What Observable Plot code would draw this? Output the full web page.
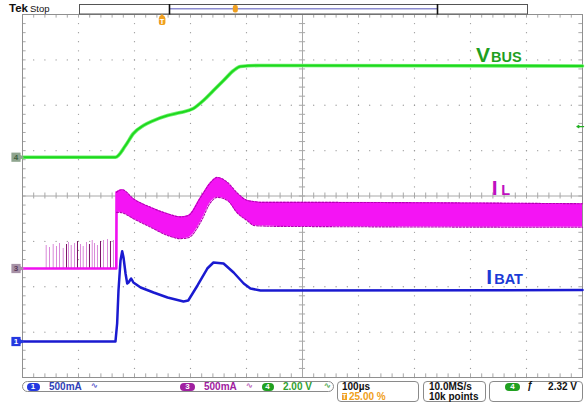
<!DOCTYPE html>
<html><head><meta charset="utf-8">
<script src="https://cdn.jsdelivr.net/npm/d3@7"></script>
<script src="https://cdn.jsdelivr.net/npm/@observablehq/plot@0.6"></script>
<style>
body{margin:0;background:#fff;}
#wrap{position:relative;width:585px;height:406px;overflow:hidden;font-family:"Liberation Sans",Arial,sans-serif;background:#fff;}
#wrap > svg{position:absolute;left:0;top:0;}
.ov{position:absolute;white-space:nowrap;line-height:1;font-weight:bold;font-size:10px;}
.box{position:absolute;border:1px solid #8a8a8a;box-sizing:border-box;}
.pill{position:absolute;border-radius:5px;color:#fff;font-weight:bold;font-size:8px;text-align:center;line-height:8px;height:8px;}
</style></head><body><div id="wrap"></div>
<script>
// ---------- data (time in µs relative to trigger, amplitude in screen divisions) ----------
const greenT = [-250,-84,-66,-52,-34,-16,9,32,55,73,91,109,127,139,175,750];
const vbus   = [0.855,0.855,1.113,1.377,1.553,1.663,1.774,1.840,1.928,2.105,2.325,2.545,2.765,2.854,2.876,2.865];

const ilPreT = [-250,-82.5,-82];
const ilPre  = [-1.598,-1.598,0.08];
const spikeT = [-207.7,-201.8,-195.2,-189.3,-183.9,-177.3,-171.4,-167.9,-163.0,-157.1,-151.8,-146.4,-141.6,-135.7,-130.4,-125.5,-121.4,-116.1,-110.7,-105.4,-98.2,-92.9,-87.5];
const spikeTop = [-1.091,-1.135,-1.069,-1.113,-1.047,-1.157,-1.069,-1.025,-1.091,-1.047,-1.003,-1.069,-1.113,-1.025,-1.069,-0.981,-1.047,-1.091,-1.003,-0.981,-0.959,-1.003,-0.981];
const spikeDark = [0,0,0,0,0,0,1,0,0,0,1,0,0,0,1,0,0,0,1,0,0,1,0];
const bandT  = [-82,-78,-72,-52,-21,9,32,46,68,86,98,116,134,152,163,175,211,750];
const bandHi = [0.08,0.12,0.14,-0.06,-0.25,-0.39,-0.46,-0.43,-0.03,0.30,0.41,0.30,0.06,-0.10,-0.12,-0.14,-0.14,-0.17];
const bandLo = [-0.36,-0.36,-0.37,-0.50,-0.69,-0.87,-0.94,-0.92,-0.58,-0.14,-0.03,-0.10,-0.38,-0.55,-0.65,-0.66,-0.67,-0.69];

const blueT = [-250,-84,-81,-78.6,-75,-72,-69.6,-66,-63,-60.7,-56,-52,-39,-16,9,37.5,46,62.5,80,91,109,127,145,157,175,750];
const ibat  = [-3.207,-3.207,-2.81,-2.083,-1.421,-1.217,-1.355,-1.708,-1.928,-1.906,-1.818,-1.906,-2.017,-2.127,-2.237,-2.325,-2.303,-1.972,-1.598,-1.466,-1.488,-1.686,-1.928,-2.039,-2.083,-2.072];

const chNames  = ["4","3","1"];
const chGround = [0.855,-1.598,-3.207];
const chFill   = ["#8fa58f","#a792a7","#2438e0"];
const chText   = ["#3f5f3f","#5a3a5a","#ffffff"];

const labelBig   = ["V","I","I"];
const labelSmall = ["BUS","L","BAT"];
const labelT     = [560,588,578];
const labelV     = [3.10,0.17,-1.80];
const labelColor = ["#1f9f1f","#c010c0","#1a3ad6"];
const smallDx    = [15,9.5,8];

const trigLevel = 1.53;

// ---------- tables ----------
const greenRows = greenT.map((t,i)=>({t, v:vbus[i]}));
const ilpRows = ilPreT.map((t,i)=>({t, v:ilPre[i]}));
const spikeRows = spikeT.map((t,i)=>({t, top:spikeTop[i], dark:spikeDark[i]}));
const bandRows = bandT.map((t,i)=>({t, hi:bandHi[i], lo:bandLo[i]}));
const blueRows = blueT.map((t,i)=>({t, v:ibat[i]}));
const chanRows = chNames.map((n,i)=>({n, v:chGround[i], f:chFill[i], c:chText[i]}));
const labelRows = labelBig.map((b,i)=>({b, s:labelSmall[i], t:labelT[i], v:labelV[i], c:labelColor[i], dx:smallDx[i]}));

// graticule
const gridCols = [-150,-50,50,150,350,450,550,650];
const gridRows = [-3,-2,-1,1,2,3];
const minorX = d3.range(-250, 750.01, 20);
const minorY = d3.range(-4, 4.001, 0.2);
const gridDots = [];
for (const t of gridCols) for (const v of minorY) gridDots.push({t, v});
for (const v of gridRows) for (const t of minorX) gridDots.push({t, v});

const gcol = "#a8a8a8";
const FF = "Liberation Sans, Arial, sans-serif";

const scopePlot = Plot.plot({
  width:585, height:406,
  marginLeft:22, marginRight:3, marginTop:14, marginBottom:29,
  x:{domain:[-250,750], axis:null},
  y:{domain:[-4,4], axis:null},
  style:{background:"transparent", overflow:"visible"},
  marks:[
    Plot.dot(gridDots,{x:"t", y:"v", r:0.65, fill:"#9a9a9a", stroke:null}),
    Plot.ruleX([250],{stroke:gcol}),
    Plot.ruleY([0],{stroke:gcol}),
    Plot.ruleX(minorX,{x:d=>d, y1:-0.066, y2:0.066, stroke:gcol}),
    Plot.ruleY(minorY,{y:d=>d, x1:244.5, x2:255.5, stroke:gcol}),
    Plot.ruleX(minorX,{x:d=>d, y1:4, y2:3.92, stroke:gcol}),
    Plot.ruleX(minorX,{x:d=>d, y1:-4, y2:-3.92, stroke:gcol}),
    Plot.ruleY(minorY,{y:d=>d, x1:-250, x2:-243.5, stroke:gcol}),
    Plot.ruleY(minorY,{y:d=>d, x1:750, x2:743.5, stroke:gcol}),
    Plot.frame({stroke:"#909090"}),

    // IL pre-trigger spikes and baseline
    Plot.ruleX(spikeRows.filter(d=>!d.dark),{x:"t", y1:-1.598, y2:"top", stroke:"#d98ad9", strokeWidth:1}),
    Plot.ruleX(spikeRows.filter(d=>d.dark),{x:"t", y1:-1.598, y2:"top", stroke:"#7a1466", strokeWidth:1}),
    Plot.line(ilpRows,{x:"t", y:"v", stroke:"#f010f0", strokeWidth:2.6}),
    // IL band
    Plot.areaY(bandRows,{x:"t", y1:"lo", y2:"hi", fill:"#f414f4", curve:"monotone-x"}),
    Plot.line(bandRows,{x:"t", y:"hi", stroke:"#b400b4", strokeWidth:1.1, strokeDasharray:"2,1.5", curve:"monotone-x"}),
    Plot.line(bandRows,{x:"t", y:"lo", stroke:"#b400b4", strokeWidth:1.1, strokeDasharray:"2,1.5", curve:"monotone-x"}),

    // VBUS
    Plot.line(greenRows,{x:"t", y:"v", stroke:"#6ef06e", strokeWidth:3.6, curve:"monotone-x"}),
    Plot.line(greenRows,{x:"t", y:"v", stroke:"#1ed81e", strokeWidth:2, curve:"monotone-x"}),
    // IBAT
    Plot.line(blueRows,{x:"t", y:"v", stroke:"#1a1ad0", strokeWidth:2.5, curve:"linear"}),

    // trigger level arrow
    Plot.arrow([trigLevel],{x1:752, x2:740, y1:d=>d, y2:d=>d, stroke:"#20b020", strokeWidth:1.2, headLength:5}),

    // channel ground markers
    Plot.dot(chanRows,{x:()=>-250, y:"v", symbol:"triangle", rotate:90, r:2.8, fill:"f", stroke:null, dx:-2.5}),
    Plot.dot(chanRows,{x:()=>-250, y:"v", symbol:"square", r:5.2, fill:"f", stroke:null, dx:-6.5}),
    Plot.text(chanRows,{x:()=>-250, y:"v", text:"n", fill:"c", fontSize:8, fontWeight:"bold", dx:-6.5, fontFamily:FF}),

    // trace labels
    Plot.text(labelRows,{x:"t", y:"v", text:"b", fill:"c", fontSize:21, fontWeight:"bold", textAnchor:"start", fontFamily:FF}),
    Plot.text(labelRows,{x:"t", y:"v", text:"s", fill:"c", fontSize:14.5, fontWeight:"bold", textAnchor:"start", fontFamily:FF,
      render(index, scales, values, dims, ctx, next){
        const g = next(index, scales, values, dims, ctx);
        d3.select(g).selectAll("text").each(function(_,k){
          const i = index[k];
          d3.select(this).attr("transform", `translate(${values.x[i]+labelRows[i].dx},${values.y[i]+2.1})`);
        });
        return g;
      }})
  ]
});

const wrapEl = document.getElementById("wrap");
wrapEl.appendChild(scopePlot);

// ---------- scope chrome (top bar & status bar) ----------
const topBar = document.createElementNS("http://www.w3.org/2000/svg","svg");
topBar.setAttribute("width",585); topBar.setAttribute("height",30);
topBar.style.position="absolute"; topBar.style.left="0"; topBar.style.top="0";
topBar.innerHTML = `
<text x="9" y="12" font-family="${FF}" font-size="11.5" font-weight="bold" fill="#111">Tek</text>
<text x="30" y="12" font-family="${FF}" font-size="9.5" fill="#111">Stop</text>
<rect x="79.5" y="4.5" width="448" height="9.5" fill="#fff" stroke="#555" stroke-width="1"/>
<line x1="170" y1="8.8" x2="437" y2="8.8" stroke="#8c8cd0" stroke-width="1.5"/>
<line x1="169.5" y1="4" x2="169.5" y2="14.5" stroke="#111" stroke-width="1.6"/>
<line x1="437.5" y1="4" x2="437.5" y2="14.5" stroke="#111" stroke-width="1.6"/>
<rect x="232.8" y="5" width="5" height="7.5" rx="2" fill="#f0a020"/>
<path d="M162 14 L159 17 L165 17 Z" fill="#f0a020"/>
<rect x="158.8" y="16.5" width="6.6" height="8.5" rx="2" fill="#f0a020"/>
<text x="162.1" y="23.6" text-anchor="middle" font-family="${FF}" font-size="7.5" font-weight="bold" fill="#fff">T</text>`;
wrapEl.appendChild(topBar);

const statusBar = document.createElement("div");
statusBar.innerHTML = `
<div class="box" style="left:22px;top:381px;width:312px;height:11px;border-radius:6px"></div>
<div class="pill" style="left:26.5px;top:382.5px;width:13px;background:#2438e0">1</div>
<div class="ov" style="left:49px;top:381.5px;color:#2f3fb8">500mA</div>
<div class="ov" style="left:91px;top:381.5px;color:#6a6ad0;font-size:8px">∿</div>
<div class="pill" style="left:180px;top:382.5px;width:15px;background:#a020a0">3</div>
<div class="ov" style="left:204px;top:381.5px;color:#a020a0">500mA</div>
<div class="ov" style="left:246px;top:381.5px;color:#c070c0;font-size:8px">∿</div>
<div class="pill" style="left:261.5px;top:382.5px;width:12px;background:#20a020">4</div>
<div class="ov" style="left:283px;top:381.5px;color:#30a030">2.00 V</div>
<div class="ov" style="left:324px;top:381.5px;color:#60b060;font-size:8px">∿</div>

<div class="box" style="left:337px;top:381px;width:82px;height:21px;border-radius:4px"></div>
<div class="ov" style="left:342px;top:381.5px;color:#111">100µs</div>
<div class="ov" style="left:342px;top:393px;width:5px;height:7px;background:#f0a020;color:#fff;font-size:6.5px;text-align:center;line-height:7px">T</div>
<div class="ov" style="left:349px;top:391.5px;color:#f0a020">25.00 %</div>

<div class="box" style="left:423px;top:381px;width:63px;height:21px;border-radius:4px"></div>
<div class="ov" style="left:429px;top:381.5px;color:#111">10.0MS/s</div>
<div class="ov" style="left:429px;top:391.5px;color:#111">10k points</div>

<div class="box" style="left:489px;top:381px;width:94px;height:21px;border-radius:4px"></div>
<div class="pill" style="left:505px;top:382.5px;width:15px;background:#20a020">4</div>
<div class="ov" style="left:527px;top:381px;color:#111;font-style:italic">ƒ</div>
<div class="ov" style="right:8px;top:381.5px;color:#111">2.32 V</div>`;
wrapEl.appendChild(statusBar);
</script>
</body></html>
